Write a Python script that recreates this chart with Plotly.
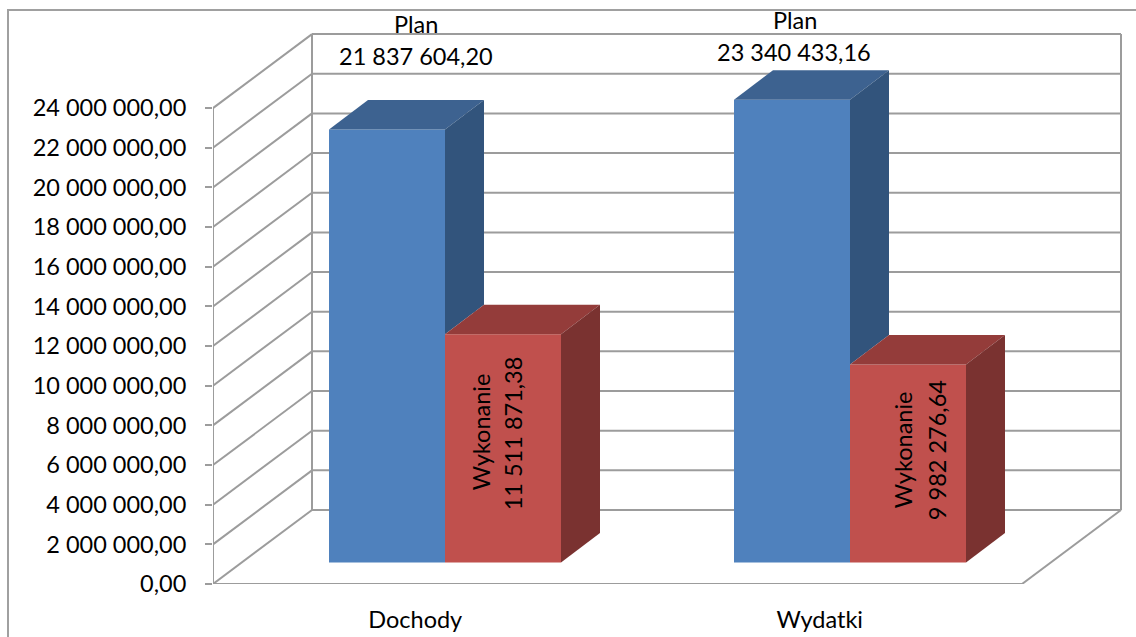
import plotly.graph_objects as go

categories = ["Dochody", "Wydatki"]
plan_values = [21837604.20, 23340433.16]
wykonanie_values = [11511871.38, 9982276.64]
plan_labels = ["21 837 604,20", "23 340 433,16"]
wykonanie_labels = ["11 511 871,38", "9 982 276,64"]
y_ticks = list(range(0, 24000001, 2000000))
y_tick_labels = ["{:,}".format(v).replace(",", " ") + ",00" for v in y_ticks]

# geometry of the 3-D box in axis units
PX_X = 404.5            # pixels per category
PX_Y = 19.83 / 1e6      # pixels per unit value
WALL_DX = 99 / PX_X
WALL_DY = 74 / PX_Y
BAR_DX = 39 / PX_X
BAR_DY = 29.5 / PX_Y
BAR_W = 116 / PX_X
BAR_BASE = 21.5 / PX_Y
BAR_START = [116 / PX_X, 521 / PX_X]
GRID = "#9c9c9c"
FONT = "Lato"
FS = 23.5

fig = go.Figure()
bar_x_plan = [s + BAR_W / 2 for s in BAR_START]
bar_x_wyk = [s + BAR_W * 1.5 for s in BAR_START]
fig.add_bar(x=bar_x_plan, y=plan_values, base=BAR_BASE, width=BAR_W,
            marker=dict(color="#4f81bd", line=dict(width=0)), name="Plan", hoverinfo="skip")
fig.add_bar(x=bar_x_wyk, y=wykonanie_values, base=BAR_BASE, width=BAR_W,
            marker=dict(color="#c0504d", line=dict(width=0)), name="Wykonanie", hoverinfo="skip")


def poly(xs, ys, color):
    fig.add_scatter(x=xs + xs[:1], y=ys + ys[:1], mode="lines", fill="toself",
                    fillcolor=color, line=dict(width=0, color=color),
                    hoverinfo="skip", showlegend=False)


for i in range(2):
    left = BAR_START[i]
    mid = left + BAR_W
    right = mid + BAR_W
    top_p = BAR_BASE + plan_values[i]
    top_w = BAR_BASE + wykonanie_values[i]
    # plan: top and visible part of the side (the rest is hidden by the next bar)
    poly([left, mid, mid + BAR_DX, left + BAR_DX],
         [top_p, top_p, top_p + BAR_DY, top_p + BAR_DY], "#3d6290")
    poly([mid, mid + BAR_DX, mid + BAR_DX, mid],
         [top_p, top_p + BAR_DY, top_w + BAR_DY, top_w], "#32547c")
    # wykonanie: top and side
    poly([mid, right, right + BAR_DX, mid + BAR_DX],
         [top_w, top_w, top_w + BAR_DY, top_w + BAR_DY], "#943c3a")
    poly([right, right + BAR_DX, right + BAR_DX, right],
         [top_w, top_w + BAR_DY, BAR_BASE + BAR_DY, BAR_BASE], "#7a3230")

# wire frame of the chart box, under the bars
shapes = []


def seg(x0, y0, x1, y1):
    shapes.append(dict(type="line", xref="x", yref="y", x0=x0, y0=y0, x1=x1, y1=y1,
                       layer="below", line=dict(color=GRID, width=2)))


n = len(categories)
for v in y_ticks:
    seg(0, v, WALL_DX, v + WALL_DY)
    seg(WALL_DX, v + WALL_DY, n + WALL_DX, v + WALL_DY)
top = y_ticks[-1]
seg(0, 0, 0, top)
seg(0, 0, n, 0)
seg(n, 0, n + WALL_DX, WALL_DY)
seg(WALL_DX, WALL_DY, WALL_DX, top + WALL_DY)
seg(n + WALL_DX, WALL_DY, n + WALL_DX, top + WALL_DY)
for k in range(n + 1):
    seg(k, 0, k, -7 / PX_Y)
# outer frame of the chart object
shapes.append(dict(type="rect", xref="paper", yref="paper", x0=-205 / 913, x1=1.1,
                   y0=-0.2, y1=(584 - 10) / 584, layer="below",
                   line=dict(color="#a0a0a0", width=2), fillcolor="rgba(0,0,0,0)"))

anns = []


def note(text, x, y, angle=0):
    anns.append(dict(text=text, x=x, y=y, xref="x", yref="y", showarrow=False,
                     textangle=angle, xanchor="center", yanchor="middle",
                     font=dict(family=FONT, size=FS, color="#000000")))


note("Plan", 203 / PX_X, plan_values[0] + 6.4e6)
note(plan_labels[0], 203 / PX_X, plan_values[0] + 4.78e6)
note("Plan", 582 / PX_X, plan_values[1] + 5.1e6)
note(plan_labels[1], 581 / PX_X, plan_values[1] + 3.47e6)
note("Wykonanie", 268 / PX_X, 7.65e6, -90)
note(wykonanie_labels[0], 300 / PX_X, 7.6e6, -90)
note("Wykonanie", 690 / PX_X, 6.75e6, -90)
note(wykonanie_labels[1], 724 / PX_X, 6.75e6, -90)

fig.update_layout(
    width=1136, height=637, autosize=False,
    margin=dict(l=213, r=10, t=0, b=53),
    paper_bgcolor="white", plot_bgcolor="white",
    showlegend=False, barmode="overlay", shapes=shapes, annotations=anns,
    font=dict(family=FONT, size=FS, color="#000000"),
    xaxis=dict(range=[0, 913 / PX_X], tickvals=[0.5, 1.5], ticktext=categories,
               ticks="", showgrid=False, zeroline=False, showline=False,
               ticklabelstandoff=19, tickfont=dict(family=FONT, size=FS)),
    yaxis=dict(range=[0, 584 / PX_Y], tickvals=y_ticks, ticktext=y_tick_labels,
               ticks="outside", ticklen=7, tickwidth=2, tickcolor=GRID,
               showgrid=False, zeroline=False, showline=False,
               ticklabelstandoff=14, tickfont=dict(family=FONT, size=FS)),
)
fig.write_html("out.html", config=dict(displayModeBar=False),
               post_script="document.body.style.margin='0';document.body.style.overflow='hidden';")
